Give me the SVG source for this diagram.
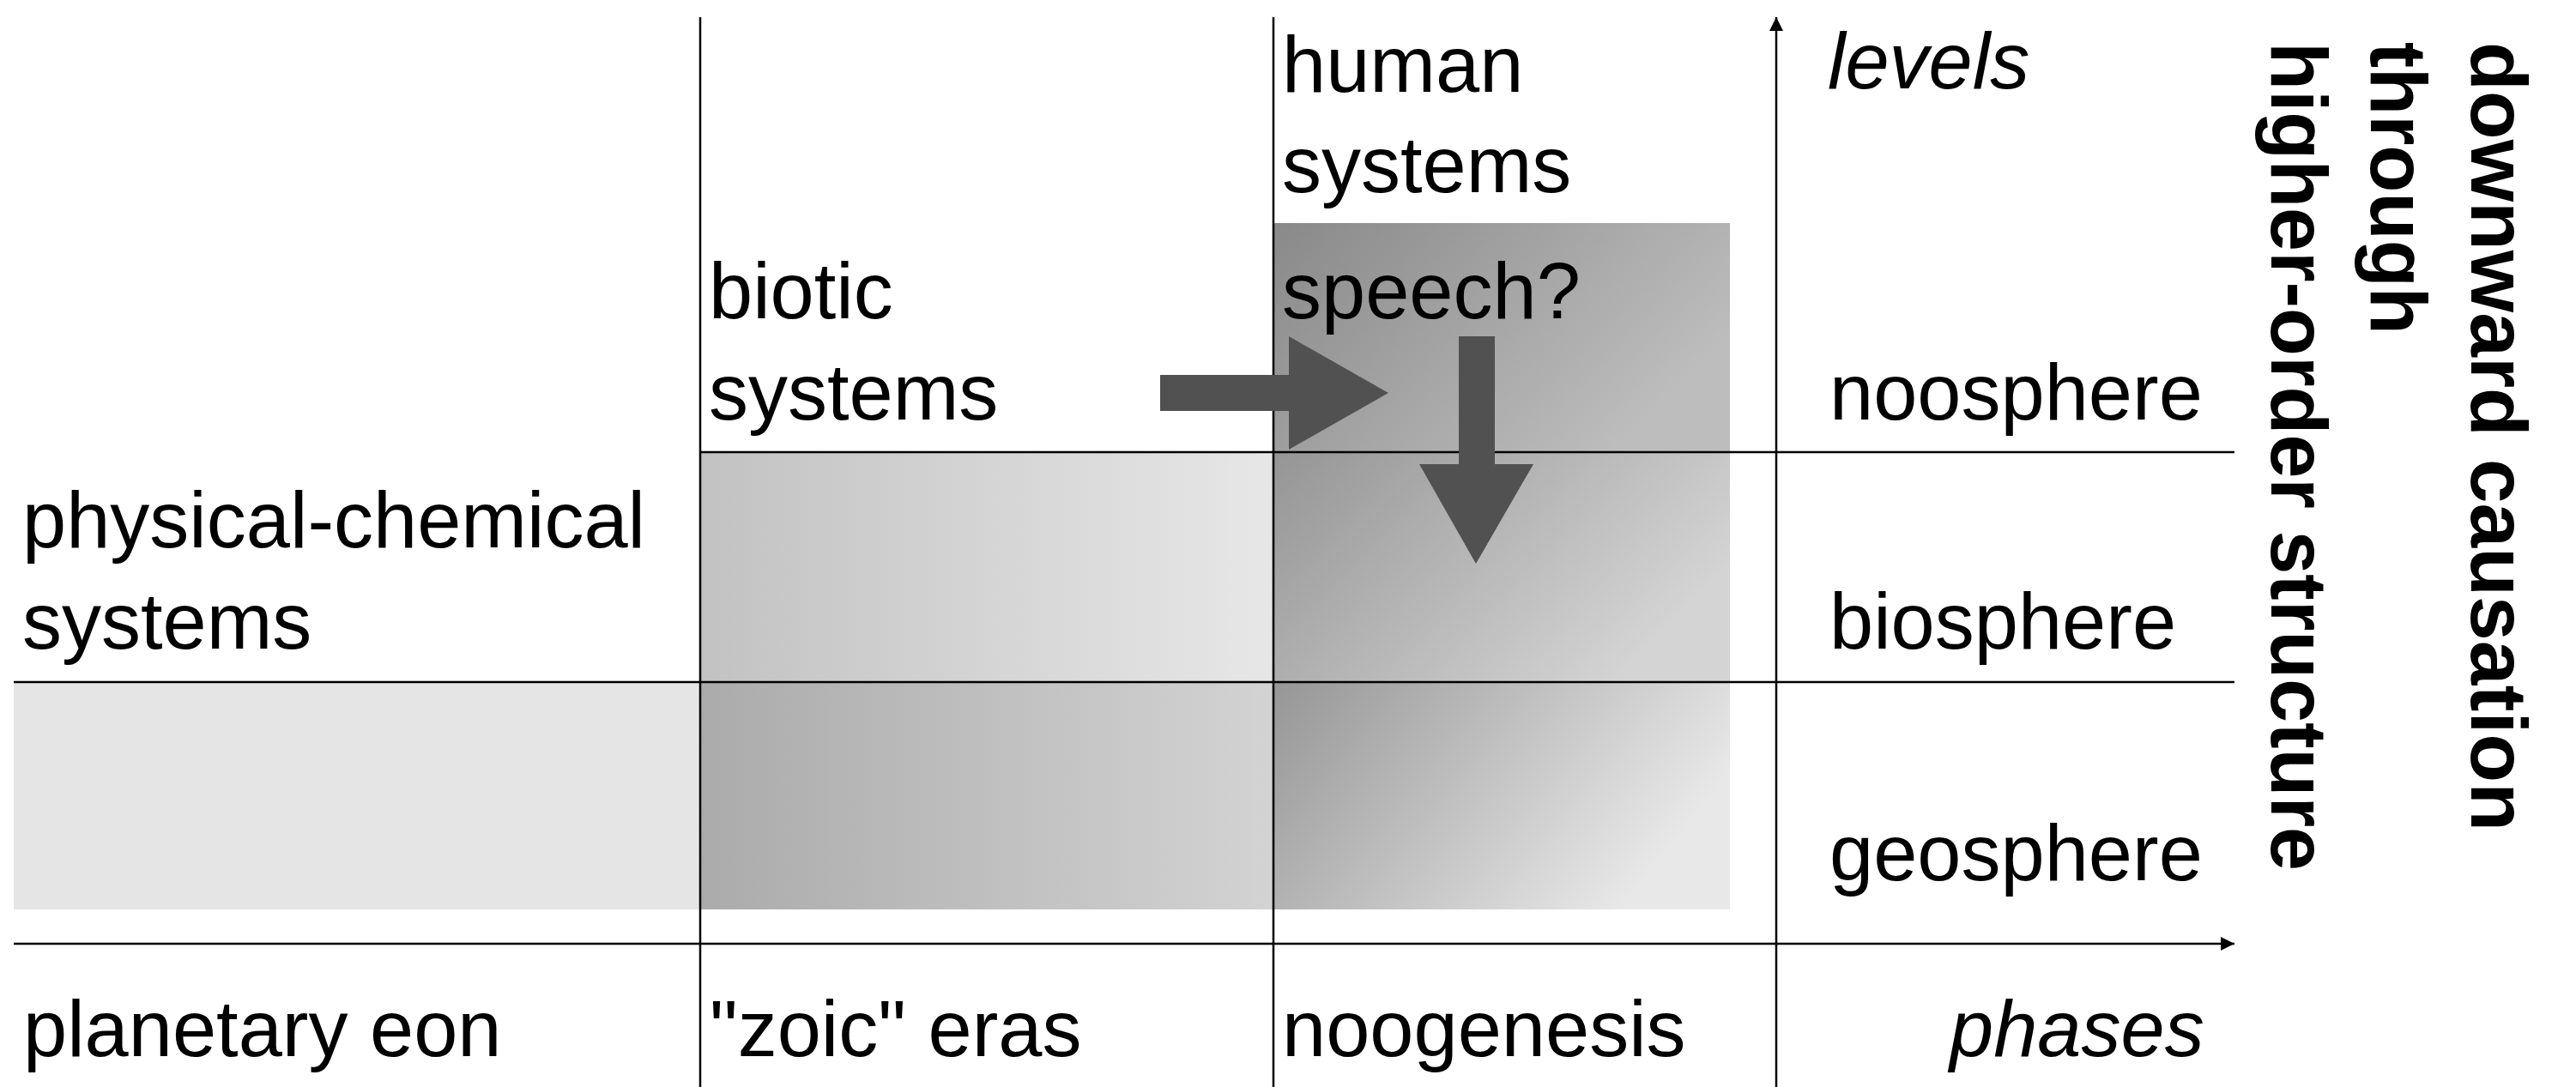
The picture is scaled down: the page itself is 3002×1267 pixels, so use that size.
<svg xmlns="http://www.w3.org/2000/svg" width="3002" height="1267" viewBox="0 0 3002 1267">
  <style>
    .t { font-family: "Liberation Sans", Arial, Helvetica, sans-serif; font-size: 92px; fill: #000; }
    .it { font-style: italic; }
    .v { font-family: "Liberation Sans", Arial, Helvetica, sans-serif; font-size: 93px; font-weight: bold; fill: #000; }
    .ln { stroke: #000; stroke-width: 2.5; fill: none; }
    .arr { fill: #515151; }
  </style>
  <defs>
    <linearGradient id="gBioTop" x1="0" y1="0" x2="1" y2="0">
      <stop offset="0" stop-color="#c2c2c2"/>
      <stop offset="1" stop-color="#e7e7e7"/>
    </linearGradient>
    <linearGradient id="gBioBot" x1="0" y1="0" x2="1" y2="0">
      <stop offset="0" stop-color="#ababab"/>
      <stop offset="1" stop-color="#d3d3d3"/>
    </linearGradient>
    <linearGradient id="gHumTop" x1="0" y1="0" x2="1" y2="0.5">
      <stop offset="0" stop-color="#898989"/>
      <stop offset="1" stop-color="#bdbdbd"/>
    </linearGradient>
    <linearGradient id="gHumMid" x1="0" y1="0" x2="1" y2="0.5">
      <stop offset="0" stop-color="#959595"/>
      <stop offset="1" stop-color="#d4d4d4"/>
    </linearGradient>
    <linearGradient id="gHumBot" x1="0" y1="0" x2="1" y2="0.4">
      <stop offset="0" stop-color="#969696"/>
      <stop offset="1" stop-color="#e8e8e8"/>
    </linearGradient>
    <marker id="ah" viewBox="0 0 16 16" refX="16" refY="8" markerWidth="16" markerHeight="16" markerUnits="userSpaceOnUse" orient="auto">
      <path d="M0,0 L16,8 L0,16 Z" fill="#000"/>
    </marker>
  </defs>

  <g id="bands">
    <rect id="physical-band" x="16" y="795" width="800" height="265" fill="#e5e5e5"/>
    <rect id="biotic-upper" x="816" y="527" width="668" height="268" fill="url(#gBioTop)"/>
    <rect id="biotic-lower" x="816" y="795" width="668" height="265" fill="url(#gBioBot)"/>
    <rect id="human-top" x="1484" y="260" width="532" height="267" fill="url(#gHumTop)"/>
    <rect id="human-mid" x="1484" y="527" width="532" height="268" fill="url(#gHumMid)"/>
    <rect id="human-bot" x="1484" y="795" width="532" height="265" fill="url(#gHumBot)"/>
  </g>

  <g id="connectors">
    <line class="ln" x1="816" y1="20" x2="816" y2="1267"/>
    <line class="ln" x1="1484" y1="20" x2="1484" y2="1267"/>
    <line class="ln" x1="816" y1="527" x2="2604" y2="527"/>
    <line class="ln" x1="16" y1="795" x2="2604" y2="795"/>
    <line class="ln" x1="2070" y1="1267" x2="2070" y2="20" marker-end="url(#ah)"/>
    <line class="ln" x1="16" y1="1100" x2="2604" y2="1100" marker-end="url(#ah)"/>
    <polygon id="arrow-right" class="arr" points="1352,437 1502,437 1502,392 1618,458 1502,524 1502,479 1352,479"/>
    <polygon id="arrow-down" class="arr" points="1700,392 1742,392 1742,541 1787,541 1720,657 1654,541 1700,541"/>
  </g>

  <g id="physical-chemical-systems">
    <text class="t" x="26" y="638">physical-chemical</text>
    <text class="t" x="26" y="756">systems</text>
  </g>
  <g id="biotic-systems">
    <text class="t" x="826" y="371">biotic</text>
    <text class="t" x="826" y="489">systems</text>
  </g>
  <g id="human-systems">
    <text class="t" x="1494" y="107">human</text>
    <text class="t" x="1494" y="224">systems</text>
  </g>
  <g id="speech">
    <text class="t" x="1494" y="371">speech?</text>
  </g>
  <g id="levels-axis">
    <text class="t it" x="2130" y="103">levels</text>
    <text class="t" x="2132" y="489">noosphere</text>
    <text class="t" x="2132" y="756">biosphere</text>
    <text class="t" x="2132" y="1026">geosphere</text>
  </g>
  <g id="phases-axis">
    <text class="t" x="27" y="1231">planetary eon</text>
    <text class="t" x="827" y="1231">"zoic" eras</text>
    <text class="t" x="1494" y="1231">noogenesis</text>
    <text class="t it" x="2272" y="1231">phases</text>
  </g>
  <g id="downward-causation">
    <text class="v" transform="translate(2880,49) rotate(90)" textLength="920" lengthAdjust="spacingAndGlyphs">downward causation</text>
    <text class="v" transform="translate(2763,49) rotate(90)" textLength="341" lengthAdjust="spacingAndGlyphs">through</text>
    <text class="v" transform="translate(2647,49) rotate(90)" textLength="966" lengthAdjust="spacingAndGlyphs">higher-order structure</text>
  </g>
</svg>
